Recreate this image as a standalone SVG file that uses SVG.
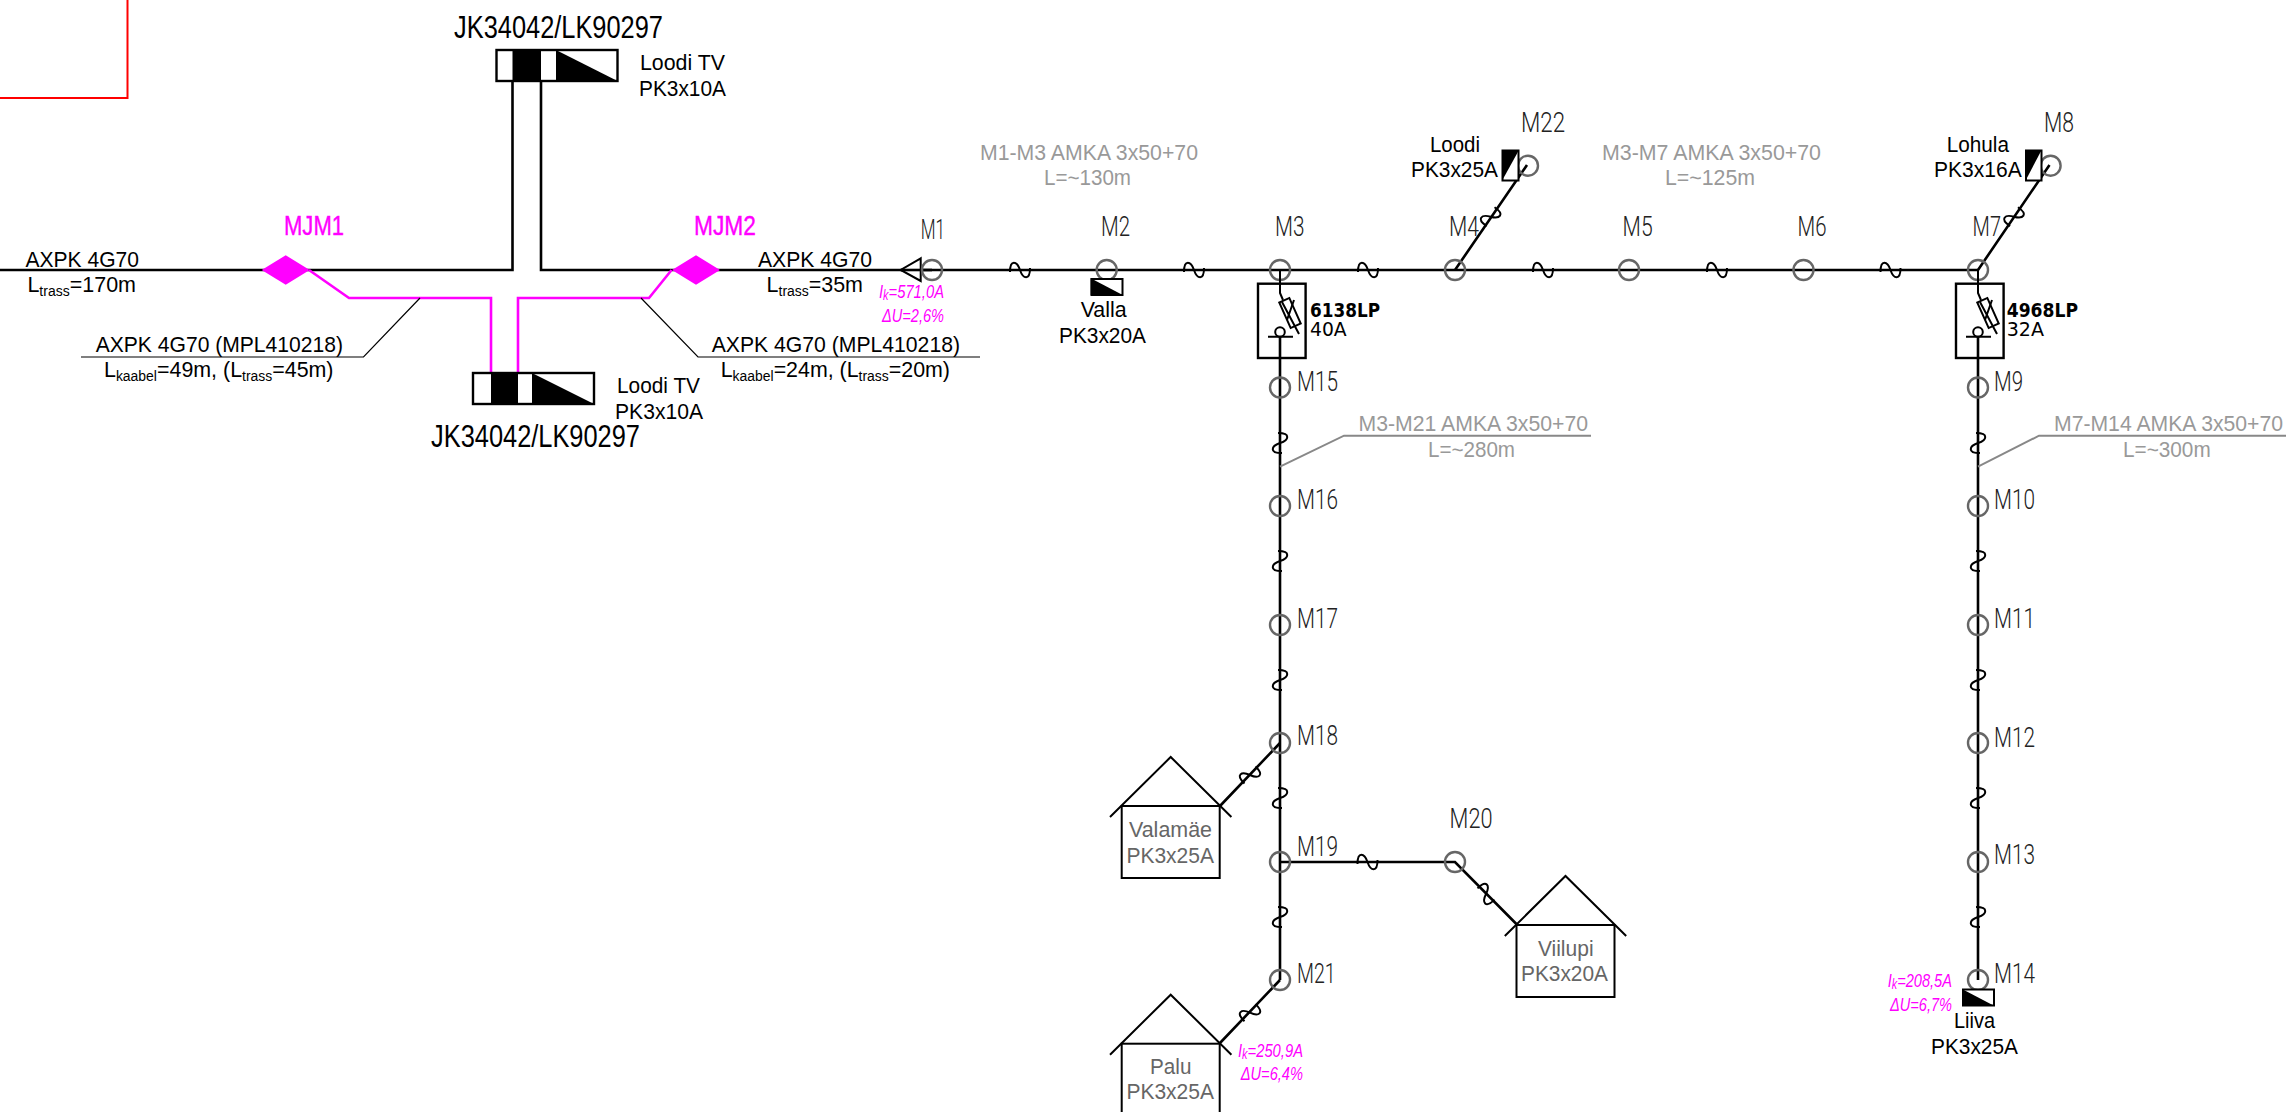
<svg xmlns="http://www.w3.org/2000/svg" width="2288" height="1112" viewBox="0 0 2288 1112">
<style>
text{font-family:"Liberation Sans",Arial,sans-serif;font-size:21.500px;fill:#000}
.big{font-size:31px}
.g{fill:#999;font-size:21.500px}
.h{fill:#666;font-size:21.500px}
.m{font-family:Roboto,"Liberation Sans",sans-serif;font-weight:300;font-size:28.500px;fill:#222}
.mj{fill:#f0f;font-size:27px;stroke:#f0f;stroke-width:.4}
.ik{fill:#f0f;font-size:19px;font-style:italic}
.s{font-size:14px}
.lp{font-family:"DejaVu Sans",sans-serif;font-size:19px}
.b{font-weight:bold}
.l{fill:none;stroke:#000;stroke-width:2.600}
.t{fill:none;stroke:#000;stroke-width:1.200}
.w{fill:none;stroke:#000;stroke-width:2}
.p{fill:none;stroke:#666;stroke-width:2.400}
.mg{fill:none;stroke:#f0f;stroke-width:2.600}
.gr{fill:none;stroke:#888;stroke-width:2}
.bx{fill:#fff;stroke:#000;stroke-width:2.400}
</style>
<defs>
<path id="wv" class="w" d="M-10,2C-10,-11-3,-9 0,0C3,9 10,11 10,-2"/>
<circle id="pole" class="p" r="10"/>
<g id="fuse">
<rect class="bx" style="fill:none" x="-22" y="13.700" width="47.600" height="74.300"/>
<path class="w" d="M0,0V23L3,30"/>
<rect class="w" x="4.500" y="29" width="11" height="28" transform="rotate(-24 10 43)"/>
<path class="w" d="M2,32L19,64M14,30L7,50M-12,66.700H13"/>
<circle class="w" cy="62" r="4.800"/>
</g>
<g id="house"><path class="w" d="M-60.700,60L0,0L60.700,60"/><rect class="w" x="-49" y="49" width="98" height="72"/></g>
</defs>
<rect width="2288" height="1112" fill="#fff"/>
<path d="M127.500,0V98H0" fill="none" stroke="#f00" stroke-width="2"/>

<g id="connectors">
<path class="l" d="M0,270H512.500V81M541,81V270H1978M1280,337V980M1978,337V980"/>
<path class="l" d="M1455,270L1527,165M1978,270L2049.500,165M1280,743L1220,806M1280,862H1455L1516.400,924M1280,980L1220,1043"/>
<path class="mg" d="M309,270L349,298H491V373M671.600,270L649,298H518V373"/>
<path class="t" d="M420,298L363.500,357H81M641,298L698,357H980"/>
<path class="gr" d="M1280,466.700L1344,435.700H1591M1978,466.700L2039,435.700H2286"/>
<use href="#wv" x="1020" y="270"/><use href="#wv" x="1194" y="270"/><use href="#wv" x="1368" y="270"/><use href="#wv" x="1543" y="270"/><use href="#wv" x="1717" y="270"/><use href="#wv" x="1890.500" y="270"/><use href="#wv" x="1367.500" y="862"/>
<use href="#wv" transform="translate(1280 443) rotate(90)"/><use href="#wv" transform="translate(1280 561) rotate(90)"/><use href="#wv" transform="translate(1280 680) rotate(90)"/><use href="#wv" transform="translate(1280 798) rotate(90)"/><use href="#wv" transform="translate(1280 917) rotate(90)"/>
<use href="#wv" transform="translate(1978 443) rotate(90)"/><use href="#wv" transform="translate(1978 561) rotate(90)"/><use href="#wv" transform="translate(1978 680) rotate(90)"/><use href="#wv" transform="translate(1978 798) rotate(90)"/><use href="#wv" transform="translate(1978 917) rotate(90)"/>
<use href="#wv" transform="translate(1490.600 216.700) rotate(-56)"/><use href="#wv" transform="translate(2014 216.700) rotate(-56)"/>
<use href="#wv" transform="translate(1250 775) rotate(-46)"/><use href="#wv" transform="translate(1250 1012.700) rotate(-46)"/><use href="#wv" transform="translate(1486 894) rotate(45)"/>
</g>

<g id="feed-left">
<text x="25.500" y="266.700" textLength="113.500" lengthAdjust="spacingAndGlyphs">AXPK 4G70</text>
<text x="27.400" y="292" textLength="108.600" lengthAdjust="spacingAndGlyphs">L<tspan class="s" dy="4">trass</tspan><tspan dy="-4">=170m</tspan></text>
</g>
<g id="feed-right">
<text x="758" y="266.700" textLength="114" lengthAdjust="spacingAndGlyphs">AXPK 4G70</text>
<text x="766.600" y="292" textLength="96.400" lengthAdjust="spacingAndGlyphs">L<tspan class="s" dy="4">trass</tspan><tspan dy="-4">=35m</tspan></text>
</g>
<g id="cable-left">
<text x="95.700" y="351.700" textLength="247.300" lengthAdjust="spacingAndGlyphs">AXPK 4G70 (MPL410218)</text>
<text x="104" y="377" textLength="229.500" lengthAdjust="spacingAndGlyphs">L<tspan class="s" dy="4">kaabel</tspan><tspan dy="-4">=49m, (L</tspan><tspan class="s" dy="4">trass</tspan><tspan dy="-4">=45m)</tspan></text>
</g>
<g id="cable-right">
<text x="711.700" y="351.700" textLength="248.300" lengthAdjust="spacingAndGlyphs">AXPK 4G70 (MPL410218)</text>
<text x="720.700" y="377" textLength="229.300" lengthAdjust="spacingAndGlyphs">L<tspan class="s" dy="4">kaabel</tspan><tspan dy="-4">=24m, (L</tspan><tspan class="s" dy="4">trass</tspan><tspan dy="-4">=20m)</tspan></text>
</g>

<g id="tv-top">
<rect class="bx" x="496.500" y="50" width="121" height="31"/>
<rect x="512.500" y="50" width="28.500" height="31"/>
<path d="M556,50V81H617.500Z"/>
<text class="big" x="454" y="38" textLength="209" lengthAdjust="spacingAndGlyphs">JK34042/LK90297</text>
<text x="640" y="70" textLength="85" lengthAdjust="spacingAndGlyphs">Loodi TV</text>
<text x="639" y="95.700" textLength="87" lengthAdjust="spacingAndGlyphs">PK3x10A</text>
</g>
<g id="tv-bottom">
<rect class="bx" x="473" y="373" width="121" height="31"/>
<rect x="491" y="373" width="27" height="31"/>
<path d="M532,373V404H594Z"/>
<text class="big" x="431" y="447" textLength="209" lengthAdjust="spacingAndGlyphs">JK34042/LK90297</text>
<text x="617" y="392.700" textLength="83" lengthAdjust="spacingAndGlyphs">Loodi TV</text>
<text x="615" y="418.700" textLength="88" lengthAdjust="spacingAndGlyphs">PK3x10A</text>
</g>
<g id="MJM1"><path d="M285.700,255.300L309.700,270L285.700,284.700L261.700,270Z" fill="#f0f"/><text class="mj" x="284" y="235" textLength="60" lengthAdjust="spacingAndGlyphs">MJM1</text></g>
<g id="MJM2"><path d="M696,255.300L720,270L696,284.700L672,270Z" fill="#f0f"/><text class="mj" x="694" y="235" textLength="62" lengthAdjust="spacingAndGlyphs">MJM2</text></g>

<g id="n-M1"><path class="w" style="fill:#fff" d="M920.700,258.300L900.700,270L920.700,281Z"/><path class="l" d="M900.700,270H932"/><use href="#pole" x="932" y="270"/><text class="m" x="920.700" y="239.300" textLength="24.300" lengthAdjust="spacingAndGlyphs">M1</text>
<text class="ik" x="879" y="298" textLength="65" lengthAdjust="spacingAndGlyphs">I<tspan font-size="14" dy="2">k</tspan><tspan dy="-2">=571,0A</tspan></text>
<text class="ik" x="882" y="322" textLength="62" lengthAdjust="spacingAndGlyphs">ΔU=2,6%</text></g>
<g id="n-M2"><use href="#pole" x="1106.700" y="270"/><text class="m" x="1101" y="236" textLength="29" lengthAdjust="spacingAndGlyphs">M2</text>
<rect class="bx" x="1091.500" y="279" width="31" height="16" style="stroke-width:2"/><path d="M1090.700,278.300V295H1122.700Z"/>
<text x="1080.700" y="317" textLength="46" lengthAdjust="spacingAndGlyphs">Valla</text><text x="1059" y="343" textLength="87" lengthAdjust="spacingAndGlyphs">PK3x20A</text></g>
<g id="n-M3"><use href="#pole" x="1280" y="270"/><text class="m" x="1275" y="236" textLength="29.500" lengthAdjust="spacingAndGlyphs">M3</text>
<use href="#fuse" x="1280" y="270"/><text class="lp b" x="1310" y="317.300" textLength="70" lengthAdjust="spacingAndGlyphs">6138LP</text><text class="lp" x="1310" y="335.700" textLength="36.700" lengthAdjust="spacingAndGlyphs">40A</text></g>
<g id="n-M4"><use href="#pole" x="1455" y="270"/><text class="m" x="1449" y="236" textLength="30" lengthAdjust="spacingAndGlyphs">M4</text></g>
<g id="n-M5"><use href="#pole" x="1629" y="270"/><text class="m" x="1622.600" y="236" textLength="30" lengthAdjust="spacingAndGlyphs">M5</text></g>
<g id="n-M6"><use href="#pole" x="1803.500" y="270"/><text class="m" x="1797.500" y="236" textLength="29" lengthAdjust="spacingAndGlyphs">M6</text></g>
<g id="n-M7"><use href="#pole" x="1978" y="270"/><text class="m" x="1972.600" y="236" textLength="28.400" lengthAdjust="spacingAndGlyphs">M7</text>
<use href="#fuse" x="1978" y="270"/><text class="lp b" x="2006.700" y="317.300" textLength="71.300" lengthAdjust="spacingAndGlyphs">4968LP</text><text class="lp" x="2006.700" y="335.700" textLength="37.300" lengthAdjust="spacingAndGlyphs">32A</text></g>
<g id="n-M8"><use href="#pole" x="2050.600" y="165.700"/><text class="m" x="2044" y="131.700" textLength="30" lengthAdjust="spacingAndGlyphs">M8</text>
<rect class="bx" style="stroke-width:2" x="2026" y="150.500" width="15.500" height="30"/><path d="M2025.500,180.700V150H2041.600Z"/>
<text x="1946.700" y="151.700" textLength="62.300" lengthAdjust="spacingAndGlyphs">Lohula</text><text x="1934" y="176.700" textLength="87.700" lengthAdjust="spacingAndGlyphs">PK3x16A</text></g>
<g id="n-M22"><use href="#pole" x="1528" y="165.700"/><text class="m" x="1521" y="131.700" textLength="44" lengthAdjust="spacingAndGlyphs">M22</text>
<rect class="bx" style="stroke-width:2" x="1502.500" y="150.500" width="16" height="30"/><path d="M1502,180.700V150H1519Z"/>
<text x="1430" y="151.700" textLength="50" lengthAdjust="spacingAndGlyphs">Loodi</text><text x="1411" y="176.700" textLength="87" lengthAdjust="spacingAndGlyphs">PK3x25A</text></g>

<g id="n-M15"><use href="#pole" x="1280" y="387.500"/><text class="m" x="1297" y="390.700" textLength="41" lengthAdjust="spacingAndGlyphs">M15</text></g>
<g id="n-M16"><use href="#pole" x="1280" y="506"/><text class="m" x="1297" y="509" textLength="41" lengthAdjust="spacingAndGlyphs">M16</text></g>
<g id="n-M17"><use href="#pole" x="1280" y="625"/><text class="m" x="1297" y="628" textLength="41" lengthAdjust="spacingAndGlyphs">M17</text></g>
<g id="n-M18"><use href="#pole" x="1280" y="743"/><text class="m" x="1297" y="745" textLength="41" lengthAdjust="spacingAndGlyphs">M18</text></g>
<g id="n-M19"><use href="#pole" x="1280" y="862"/><text class="m" x="1297" y="855.700" textLength="41" lengthAdjust="spacingAndGlyphs">M19</text></g>
<g id="n-M20"><use href="#pole" x="1455" y="862"/><text class="m" x="1449.600" y="828" textLength="43" lengthAdjust="spacingAndGlyphs">M20</text></g>
<g id="n-M21"><use href="#pole" x="1280" y="980"/><text class="m" x="1297" y="982.700" textLength="38.700" lengthAdjust="spacingAndGlyphs">M21</text>
<text class="ik" x="1238" y="1056.700" textLength="65" lengthAdjust="spacingAndGlyphs">I<tspan font-size="14" dy="2">k</tspan><tspan dy="-2">=250,9A</tspan></text>
<text class="ik" x="1240.700" y="1080" textLength="62.300" lengthAdjust="spacingAndGlyphs">ΔU=6,4%</text></g>

<g id="n-M9"><use href="#pole" x="1978" y="387.500"/><text class="m" x="1994" y="390.700" textLength="29" lengthAdjust="spacingAndGlyphs">M9</text></g>
<g id="n-M10"><use href="#pole" x="1978" y="506"/><text class="m" x="1994" y="509" textLength="41" lengthAdjust="spacingAndGlyphs">M10</text></g>
<g id="n-M11"><use href="#pole" x="1978" y="625"/><text class="m" x="1994" y="628" textLength="41" lengthAdjust="spacingAndGlyphs">M11</text></g>
<g id="n-M12"><use href="#pole" x="1978" y="743"/><text class="m" x="1994" y="747" textLength="41" lengthAdjust="spacingAndGlyphs">M12</text></g>
<g id="n-M13"><use href="#pole" x="1978" y="862"/><text class="m" x="1994" y="864" textLength="41" lengthAdjust="spacingAndGlyphs">M13</text></g>
<g id="n-M14"><use href="#pole" x="1978" y="980"/><text class="m" x="1994" y="982.700" textLength="41" lengthAdjust="spacingAndGlyphs">M14</text>
<rect class="bx" style="stroke-width:2" x="1963" y="989.500" width="31" height="16"/><path d="M1962,989V1005.700H1994Z"/>
<text x="1954" y="1028" textLength="41" lengthAdjust="spacingAndGlyphs">Liiva</text><text x="1931" y="1054" textLength="87" lengthAdjust="spacingAndGlyphs">PK3x25A</text>
<text class="ik" x="1887.700" y="986.700" textLength="64.300" lengthAdjust="spacingAndGlyphs">I<tspan font-size="14" dy="2">k</tspan><tspan dy="-2">=208,5A</tspan></text>
<text class="ik" x="1890" y="1010.700" textLength="62" lengthAdjust="spacingAndGlyphs">ΔU=6,7%</text></g>

<g id="valamae"><use href="#house" x="1170.700" y="757"/><text class="h" x="1129" y="836.700" textLength="83" lengthAdjust="spacingAndGlyphs">Valamäe</text><text class="h" x="1126.400" y="862.700" textLength="87.600" lengthAdjust="spacingAndGlyphs">PK3x25A</text></g>
<g id="palu"><use href="#house" x="1170.700" y="994.700"/><text class="h" x="1150" y="1074" textLength="41.400" lengthAdjust="spacingAndGlyphs">Palu</text><text class="h" x="1126.400" y="1099" textLength="87.600" lengthAdjust="spacingAndGlyphs">PK3x25A</text></g>
<g id="viilupi"><use href="#house" x="1565.500" y="876"/><text class="h" x="1537.900" y="956" textLength="55.700" lengthAdjust="spacingAndGlyphs">Viilupi</text><text class="h" x="1521" y="981" textLength="87" lengthAdjust="spacingAndGlyphs">PK3x20A</text></g>

<g id="span-labels">
<text class="g" x="980" y="160" textLength="218" lengthAdjust="spacingAndGlyphs">M1-M3 AMKA 3x50+70</text><text class="g" x="1044" y="185" textLength="87" lengthAdjust="spacingAndGlyphs">L=~130m</text>
<text class="g" x="1602" y="160" textLength="219" lengthAdjust="spacingAndGlyphs">M3-M7 AMKA 3x50+70</text><text class="g" x="1665" y="185" textLength="90" lengthAdjust="spacingAndGlyphs">L=~125m</text>
<text class="g" x="1358.500" y="430.700" textLength="229.500" lengthAdjust="spacingAndGlyphs">M3-M21 AMKA 3x50+70</text><text class="g" x="1428" y="456.700" textLength="87" lengthAdjust="spacingAndGlyphs">L=~280m</text>
<text class="g" x="2054" y="430.700" textLength="229" lengthAdjust="spacingAndGlyphs">M7-M14 AMKA 3x50+70</text><text class="g" x="2123" y="456.700" textLength="87.700" lengthAdjust="spacingAndGlyphs">L=~300m</text>
</g>
</svg>
